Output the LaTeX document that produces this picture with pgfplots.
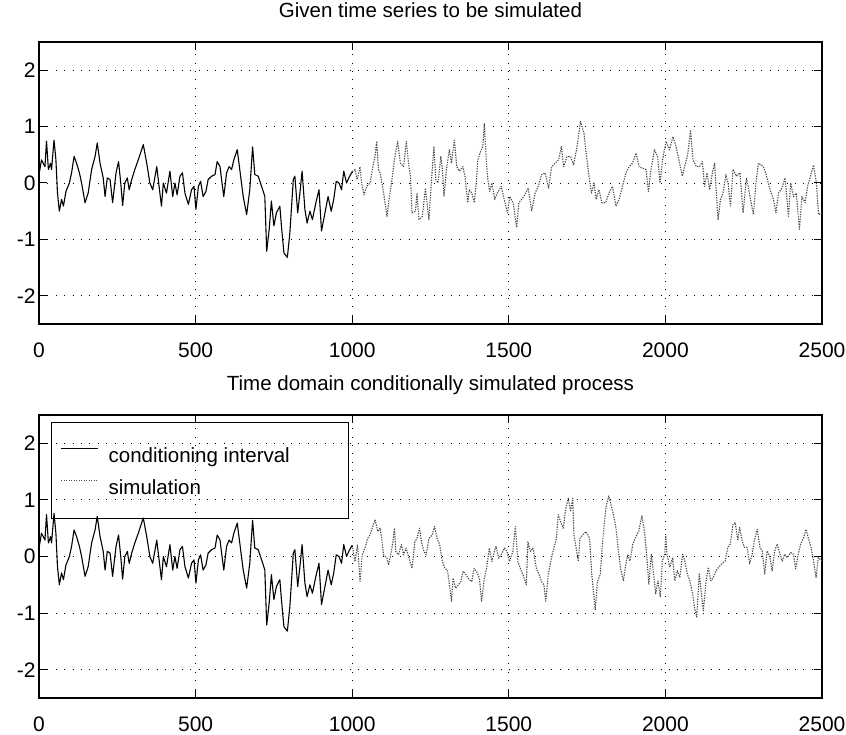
\documentclass[border=0pt]{standalone}
\usepackage{fontspec}
\setmainfont{Liberation Sans}
\usepackage{pgfplots}
\pgfplotsset{compat=1.18}
\usepackage{pgfplotstable}

\pgfplotstableread{
x y
0 0.15
8 0.41
19 0.29
24 0.74
30 0.24
37 0.35
40 0.24
48 0.76
54 0.41
59 -0.18
65 -0.50
72 -0.29
78 -0.41
86 -0.15
97 0.00
104 0.18
112 0.47
120 0.35
129 0.18
136 0.00
147 -0.35
157 -0.18
168 0.24
179 0.47
186 0.71
195 0.35
205 0.09
211 -0.24
218 0.09
227 0.06
235 -0.35
246 0.18
254 0.38
261 0.00
267 -0.40
274 0.00
282 0.09
288 -0.12
296 0.06
306 0.24
317 0.41
324 0.53
333 0.68
344 0.35
354 0.00
363 -0.12
376 0.29
386 -0.18
391 -0.41
397 0.00
407 -0.18
418 0.21
427 -0.24
434 0.00
441 -0.21
450 0.12
458 0.18
466 -0.18
477 -0.38
487 -0.12
495 -0.06
501 -0.47
509 -0.06
516 0.03
524 -0.24
533 -0.15
540 0.06
551 0.12
562 0.15
569 0.38
578 0.29
583 0.06
590 -0.24
599 0.18
607 0.29
615 0.24
622 0.41
633 0.59
641 0.24
652 -0.24
663 -0.56
673 -0.12
682 0.64
689 0.15
700 0.12
716 -0.15
721 -0.24
727 -1.21
735 -0.82
742 -0.32
750 -0.76
758 -0.53
769 -0.41
774 -0.76
782 -1.24
793 -1.32
801 -0.88
812 0.06
817 0.12
826 -0.53
833 -0.18
840 0.21
849 -0.47
856 -0.71
865 -0.50
873 -0.65
884 -0.35
894 -0.12
902 -0.85
913 -0.53
923 -0.24
933 -0.50
941 -0.29
949 0.03
958 0.00
966 -0.12
973 0.21
982 0.00
990 0.10
1000 0.20
}\condtab

\pgfplotstableread{
x y
1000 0.20
1009 0.24
1016 0.06
1025 0.29
1030 0.00
1038 -0.21
1046 -0.06
1057 0.00
1066 0.29
1073 0.47
1078 0.74
1084 0.24
1089 0.18
1097 -0.06
1102 -0.24
1111 -0.59
1119 -0.24
1127 0.06
1134 0.38
1145 0.74
1154 0.35
1164 0.29
1173 0.74
1181 0.29
1186 0.12
1191 -0.53
1202 -0.50
1207 -0.18
1213 -0.65
1224 -0.59
1234 -0.09
1240 -0.41
1245 -0.65
1254 0.12
1261 0.65
1267 0.06
1274 0.00
1283 0.47
1288 0.24
1293 -0.24
1301 0.24
1310 0.59
1317 0.35
1326 0.76
1334 0.29
1342 0.21
1353 0.29
1360 0.12
1369 -0.35
1374 -0.12
1382 -0.18
1390 -0.35
1396 0.00
1401 0.41
1410 0.56
1417 0.65
1422 1.06
1428 0.41
1433 0.06
1439 -0.15
1446 0.00
1455 -0.29
1463 -0.18
1476 -0.06
1485 -0.29
1496 -0.53
1503 -0.24
1514 -0.35
1525 -0.79
1532 -0.35
1541 -0.29
1551 -0.21
1562 -0.09
1573 -0.50
1584 -0.18
1594 -0.06
1605 0.15
1616 0.18
1627 -0.09
1637 0.29
1648 0.35
1659 0.41
1668 0.65
1675 0.29
1686 0.47
1697 0.47
1707 0.32
1718 0.65
1729 1.09
1740 0.88
1747 0.53
1756 0.12
1764 -0.18
1772 0.00
1779 -0.29
1788 -0.12
1797 -0.35
1809 -0.35
1820 -0.18
1831 -0.06
1842 -0.41
1852 -0.29
1863 -0.06
1874 0.18
1884 0.29
1895 0.35
1906 0.53
1916 0.29
1927 0.26
1938 0.24
1946 -0.15
1954 0.24
1965 0.59
1975 0.47
1983 0.00
1991 0.41
2002 0.74
2013 0.59
2024 0.82
2034 0.65
2043 0.41
2054 0.12
2064 0.35
2072 0.53
2080 0.94
2088 0.41
2099 0.29
2109 0.29
2118 0.38
2125 -0.06
2133 0.18
2141 -0.12
2150 0.18
2157 0.35
2168 -0.65
2176 -0.29
2184 -0.18
2193 0.15
2200 0.00
2208 -0.41
2216 0.24
2227 0.12
2238 0.18
2248 -0.53
2259 0.09
2270 -0.24
2281 -0.56
2289 0.00
2297 0.35
2313 0.29
2323 0.12
2334 -0.12
2345 -0.29
2353 -0.53
2361 -0.18
2372 -0.09
2382 0.09
2393 -0.59
2400 0.00
2409 -0.24
2418 -0.18
2428 -0.82
2436 -0.24
2446 -0.35
2454 -0.06
2463 0.12
2473 0.32
2482 0.00
2489 -0.56
2500 -0.53
}\simtop

\pgfplotstableread{
x y
1000 0.20
1009 -0.09
1017 0.21
1025 -0.44
1032 0.03
1041 0.15
1049 0.32
1057 0.38
1064 0.50
1073 0.65
1082 0.44
1089 0.50
1094 0.32
1100 0.03
1111 -0.03
1116 -0.15
1123 0.03
1130 0.26
1135 0.50
1139 0.09
1148 0.03
1157 0.21
1164 0.03
1172 0.15
1180 0.00
1191 -0.21
1200 0.26
1207 0.32
1215 0.50
1221 0.26
1229 0.09
1236 0.03
1245 0.32
1255 0.38
1263 0.53
1271 0.32
1279 0.21
1288 -0.09
1296 -0.21
1304 -0.24
1309 -0.44
1317 -0.79
1322 -0.38
1330 -0.56
1339 -0.50
1347 -0.44
1354 -0.26
1363 -0.32
1373 -0.41
1382 -0.44
1389 -0.21
1397 -0.26
1406 -0.38
1413 -0.79
1422 -0.38
1429 -0.21
1438 0.15
1446 -0.09
1454 0.09
1459 0.18
1468 -0.03
1475 0.03
1486 0.15
1494 0.09
1502 -0.09
1513 0.09
1521 0.53
1529 -0.09
1537 -0.21
1545 -0.32
1556 -0.50
1561 0.26
1569 0.09
1577 0.15
1588 -0.21
1597 -0.32
1604 -0.44
1612 -0.50
1618 -0.79
1626 -0.32
1636 -0.03
1644 0.15
1652 0.32
1658 0.74
1665 0.62
1674 0.50
1682 0.85
1690 1.03
1697 0.79
1704 1.03
1708 0.38
1715 0.15
1722 -0.09
1727 0.32
1736 0.38
1747 0.44
1758 0.32
1765 -0.32
1776 -0.94
1783 -0.44
1792 -0.32
1800 0.30
1810 0.86
1819 1.07
1826 0.92
1834 0.74
1842 0.51
1851 0.04
1858 -0.25
1866 -0.43
1872 -0.19
1880 0.04
1887 -0.08
1896 0.22
1904 0.33
1915 0.45
1925 0.72
1933 0.45
1941 -0.02
1947 -0.49
1955 0.04
1960 -0.19
1969 -0.66
1976 -0.43
1984 -0.72
1990 -0.08
1998 0.04
2001 0.39
2005 0.04
2014 -0.19
2023 -0.02
2030 -0.43
2038 -0.25
2046 -0.37
2055 0.04
2062 -0.08
2070 -0.31
2078 -0.43
2087 -0.66
2093 -0.90
2100 -1.07
2108 -0.31
2116 -0.72
2121 -0.96
2130 -0.43
2137 -0.19
2145 -0.43
2153 -0.37
2162 -0.25
2170 -0.19
2180 -0.13
2191 -0.08
2199 0.16
2207 0.22
2216 0.57
2223 0.60
2231 0.28
2237 0.51
2245 0.28
2252 0.16
2261 0.16
2269 -0.13
2277 0.04
2284 0.28
2293 0.48
2302 0.16
2309 0.10
2317 -0.31
2325 0.10
2334 -0.02
2341 -0.25
2349 0.10
2357 0.22
2366 0.04
2373 -0.08
2381 0.04
2389 -0.02
2400 0.07
2409 0.04
2416 -0.22
2424 0.04
2432 0.22
2441 0.33
2449 0.48
2456 0.33
2465 0.16
2473 -0.08
2481 -0.37
2488 -0.02
2500 -0.08
}\simbot

\begin{document}
\begin{tikzpicture}
\path[use as bounding box] (0,0) rectangle (846pt,735pt);
\pgfplotsset{
  myaxis/.style={
    scale only axis,
    width=783pt, height=282pt,
    xmin=0, xmax=2500, ymin=-2.5, ymax=2.5,
    xtick={0,500,1000,1500,2000,2500},
    ytick={-2,-1,0,1,2},
    scaled ticks=false,
    /pgf/number format/1000 sep={},
    /pgf/number format/assume math mode=true,
    tick align=inside, tick pos=both,
    xticklabel pos=lower, yticklabel pos=left,
    major tick length=8pt,
    every tick/.style={black, line width=1pt},
    grid=major,
    major grid style={black, line width=0.8pt, dash pattern=on 0.9pt off 7.5pt},
    axis line style={black, line width=1.1pt},
    tick label style={font=\fontsize{21}{24}\selectfont},
    xticklabel style={anchor=base, yshift=-34pt},
    title style={font=\fontsize{20.5}{24}\selectfont, at={(0.5,1)}, anchor=base, yshift=18pt},
  },
  cond/.style={black, line width=1.1pt, line join=round},
  sim/.style={black!70, line width=1.1pt, dash pattern=on 1.3pt off 1.2pt, line join=round},
}
\begin{axis}[myaxis, at={(39pt,411pt)}, anchor=south west,
  title={Given time series to be simulated}]
\addplot[cond] table {\condtab};
\addplot[sim] table {\simtop};
\end{axis}
\begin{axis}[myaxis, height=283pt, at={(39pt,37pt)}, anchor=south west,
  title={Time domain conditionally simulated process},
  legend style={at={(0,1)}, anchor=north west, xshift=12pt, yshift=-7pt,
    draw=black, line width=1.1pt, fill=none, inner xsep=9pt, inner ysep=22pt,
    font=\fontsize{20.5}{24}\selectfont,
    nodes={inner sep=0pt, text height=18pt, text depth=2pt}, row sep=12pt},
  legend cell align=left,
  legend image code/.code={\draw[#1] (0pt,6pt) -- (37pt,6pt);},
  /tikz/every odd column/.append style={column sep=10pt},
  ]
\addplot[cond] table {\condtab};
\addlegendentry{\makebox[231pt][l]{conditioning interval}}
\addplot[sim] table {\simbot};
\addlegendentry{\makebox[231pt][l]{simulation}}
\end{axis}
\end{tikzpicture}
\end{document}
